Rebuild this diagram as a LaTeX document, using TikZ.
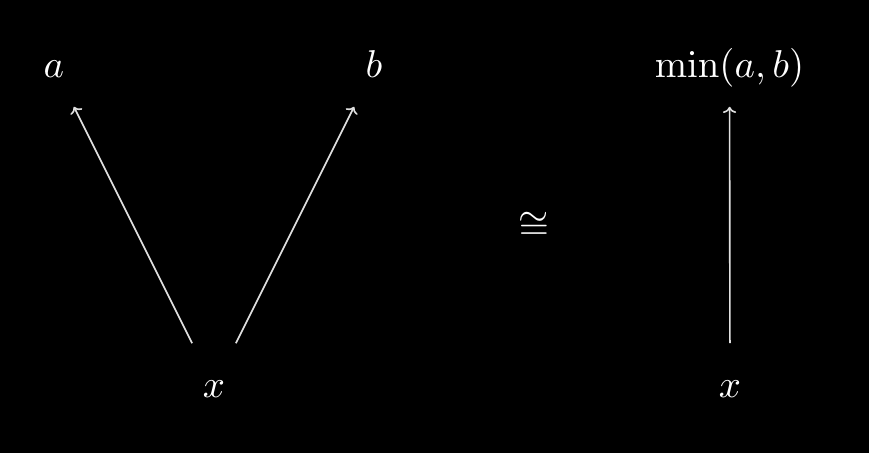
\documentclass[tikz,border=0pt]{standalone}
\usetikzlibrary{arrows.meta}
\begin{document}
\begin{tikzpicture}[x=0.2577pt,y=-0.2577pt,
  lbl/.style={text=white,inner xsep=4.5pt,text height=1.5ex,text depth=0.25ex},
  toplbl/.style={lbl,inner ysep=6.28pt},
  botlbl/.style={lbl,inner ysep=7.31pt},
  arr/.style={draw=white!88!black,line width=0.42pt,-{To[length=1.6pt,width=3.4pt]}}]
\fill[black] (0,0) rectangle (869,453);
\useasboundingbox (0,0) rectangle (869,453);
\node[toplbl] (a) at (54,67) {$a$};
\node[toplbl] (b) at (374,67) {$b$};
\node[toplbl] (m) at (729.5,67) {$\min(a,b)$};
\node[botlbl] (xl) at (214,387) {$x$};
\node[botlbl] (xr) at (730,387) {$x$};
\node[text=white] (c) at (534,226) {$\cong$};
\draw[arr] (xl) -- (a);
\draw[arr] (xl) -- (b);
\draw[arr] (xr) -- (m);
\end{tikzpicture}
\end{document}
